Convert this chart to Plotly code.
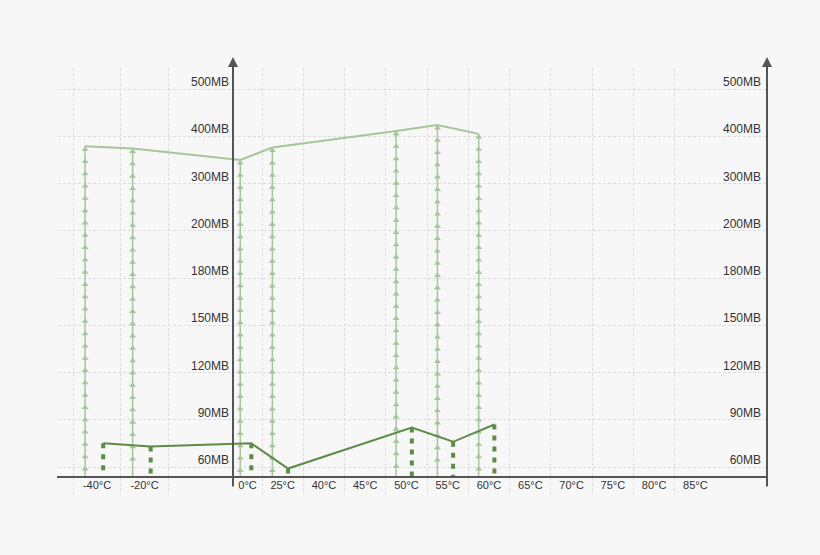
import numpy as np
import plotly.graph_objects as go

# ---------------- data ----------------
cats_neg = ["-40°C", "-20°C"]
cats_pos = ["0°C", "25°C", "40°C", "45°C", "50°C", "55°C", "60°C",
            "65°C", "70°C", "75°C", "80°C", "85°C"]
y_tick_mb = [60, 90, 120, 150, 180, 200, 300, 400, 500]
y_tick_text = ["60MB", "90MB", "120MB", "150MB", "180MB", "200MB",
               "300MB", "400MB", "500MB"]
series_temps = ["-40°C", "-20°C", "0°C", "25°C", "50°C", "55°C", "60°C"]
light_mb = [379, 374, 350, 376, 411, 424, 405]
dark_mb = [75, 73, 75, 59, 85, 76, 87]

# ---------------- layout constants (pixels) ----------------
W, H = 820, 555
PX_L, PX_R = 58, 767          # plot area left / right
PX_T, PX_B = 68, 495          # plot area top / bottom
PX_XAXIS = 477                # x axis line
PX_YAXIS_L = 233              # left y axis line (first positive band starts here)
BAND_POS = 41.27              # band width of positive temps
BAND_NEG = 47.5               # band width of negative temps
CENTER0 = 241.4               # nominal centre of first positive band
NEG_LEFT = 73.25              # left edge of negative group
ROW = 47.25                   # pixels per y tick step
PX_TICK0 = 467                # pixel of first y tick
LIGHT = "rgb(167,197,155)"
DARK = "rgb(94,139,70)"
GRID = "#dcdcdc"
AXIS = "#555555"
FONT = "Liberation Sans, Arial, sans-serif"


def px_to_x(p):
    return (p - CENTER0) / BAND_POS


# ---------------- scales ----------------
neg_edges = [px_to_x(NEG_LEFT + BAND_NEG * j) for j in range(len(cats_neg) + 1)]
pos_edges = [px_to_x(PX_YAXIS_L)] + [i + 0.5 for i in range(len(cats_pos))]
centers, band_w = {}, {}
for edges_, cats_ in ((neg_edges, cats_neg), (pos_edges, cats_pos)):
    for k, c in enumerate(cats_):
        centers[c] = 0.5 * (edges_[k] + edges_[k + 1])
        band_w[c] = edges_[k + 1] - edges_[k]
grid_edges = neg_edges + pos_edges[1:-1]

y_idx = np.arange(len(y_tick_mb))


def mb_to_pos(v):
    if v < y_tick_mb[0]:
        return (v - y_tick_mb[0]) / (y_tick_mb[1] - y_tick_mb[0])
    return float(np.interp(v, y_tick_mb, y_idx))


x_range = [px_to_x(PX_L), px_to_x(PX_R)]
y_range = [(PX_TICK0 - PX_B) / ROW, (PX_TICK0 - PX_T) / ROW]
axis_pos = (PX_TICK0 - PX_XAXIS) / ROW

light_x = [centers[t] - 0.25 * band_w[t] for t in series_temps]
dark_x = [centers[t] + 0.13 * band_w[t] for t in series_temps]
light_y = [mb_to_pos(v) for v in light_mb]
dark_y = [mb_to_pos(v) for v in dark_mb]

# stems with repeated arrow heads (light series)
stem_x, stem_y, tri_x, tri_y = [], [], [], []
step = 12.3 / ROW
tip_off = 3.0 / ROW
for x, y in zip(light_x, light_y):
    stem_x += [x, x, None]
    stem_y += [axis_pos, y, None]
    k = 0
    while y - k * step >= axis_pos + 9.5 / ROW:
        tri_x.append(x)
        tri_y.append(y - k * step - tip_off)
        k += 1

# dashed bars (dark series)
bar_x, bar_y = [], []
for x, y in zip(dark_x, dark_y):
    bar_x += [x, x, None]
    bar_y += [y, axis_pos, None]

fig = go.Figure()
fig.add_trace(go.Scatter(x=stem_x, y=stem_y, mode="lines",
                         line=dict(color=LIGHT, width=1.5),
                         hoverinfo="skip", showlegend=False))
fig.add_trace(go.Scatter(x=tri_x, y=tri_y, mode="markers",
                         marker=dict(symbol="triangle-up", size=6, color=LIGHT),
                         hoverinfo="skip", showlegend=False))
fig.add_trace(go.Scatter(x=bar_x, y=bar_y, mode="lines",
                         line=dict(color=DARK, width=4, dash="5px,6px"),
                         hoverinfo="skip", showlegend=False))
fig.add_trace(go.Scatter(x=light_x, y=light_y, mode="lines",
                         line=dict(color=LIGHT, width=2), showlegend=False))
fig.add_trace(go.Scatter(x=dark_x, y=dark_y, mode="lines",
                         line=dict(color=DARK, width=2), showlegend=False))
fig.add_trace(go.Scatter(x=[None], y=[None], yaxis="y2", showlegend=False,
                         hoverinfo="skip"))

ticks_x = [centers[c] for c in cats_neg + cats_pos]
fig.update_layout(
    width=W, height=H,
    margin=dict(l=0, r=0, t=0, b=0),
    paper_bgcolor="#f7f7f7", plot_bgcolor="rgba(0,0,0,0)",
    font=dict(family=FONT, color="#333333"),
    xaxis=dict(domain=[PX_L / W, PX_R / W], range=x_range,
               anchor="free", position=1 - PX_XAXIS / H,
               tickmode="array", tickvals=ticks_x, ticktext=cats_neg + cats_pos,
               showgrid=False, zeroline=False, showline=False, ticks="",
               tickfont=dict(size=11, color="#333333"),
               minor=dict(tickmode="array", tickvals=grid_edges, showgrid=True,
                          gridcolor=GRID, griddash="3px,2px", gridwidth=1)),
    yaxis=dict(domain=[1 - PX_B / H, 1 - PX_T / H], range=y_range,
               anchor="free", position=PX_YAXIS_L / W, side="left",
               tickmode="array", tickvals=list(y_idx), ticktext=y_tick_text,
               showgrid=True, gridcolor=GRID, griddash="3px,2px", gridwidth=1,
               zeroline=False, showline=False, ticks="", ticklabelshift=-7,
               ticklabelstandoff=4,
               tickfont=dict(size=12, color="#333333")),
    yaxis2=dict(overlaying="y", side="right", range=y_range,
                anchor="free", position=PX_R / W,
                tickmode="array", tickvals=list(y_idx), ticktext=y_tick_text,
                showgrid=False, zeroline=False, showline=False, ticks="",
                ticklabelposition="inside", ticklabelshift=-7,
                ticklabelstandoff=3,
                tickfont=dict(size=12, color="#333333")),
)

fig.add_shape(type="line", xref="paper", yref="paper",
              x0=57 / W, x1=PX_R / W, y0=1 - PX_XAXIS / H, y1=1 - PX_XAXIS / H,
              line=dict(color=AXIS, width=2))
for px in (PX_YAXIS_L, PX_R):
    fig.add_annotation(x=px / W, y=1 - 57 / H, xref="paper", yref="paper",
                       ax=0, ay=431, axref="pixel", ayref="pixel",
                       text="", showarrow=True, arrowhead=2, arrowsize=1,
                       arrowwidth=2, arrowcolor=AXIS, standoff=0)

fig.write_html("out.html",
               config={"displayModeBar": False},
               post_script="document.body.style.margin='0';"
                           "document.body.style.background='#f7f7f7';")
